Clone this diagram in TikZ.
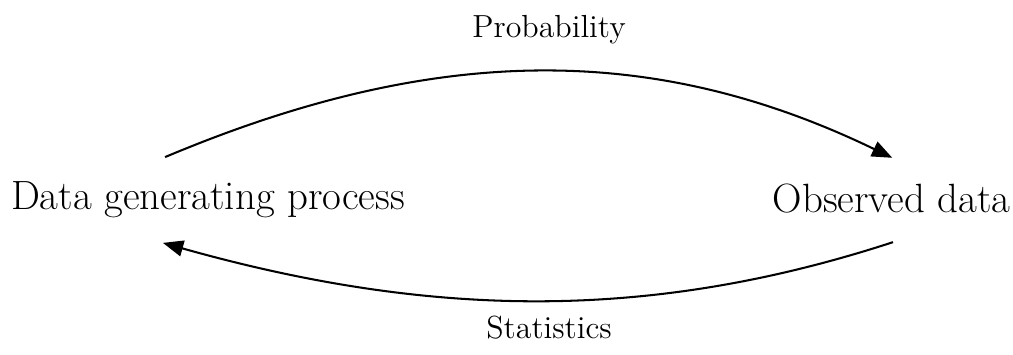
\documentclass[tikz,border=0pt]{standalone}
\usepackage{tikz}
\usetikzlibrary{arrows.meta}

\begin{document}
\begin{tikzpicture}[>={Triangle[length=0.28cm,width=0.22cm]},
    every node/.style={align=center}]
    \useasboundingbox (0,0) rectangle (13.93,4.87);
    % Nodos principales
    \node[font=\fontsize{16}{19}\selectfont, anchor=base] (dgp) at (2.86,1.99) {Data generating process};
    \node[font=\fontsize{16}{19}\selectfont, anchor=base] (obs) at (12.26,1.95) {Observed data};
    
    % Etiquetas de los arcos
    \node[font=\fontsize{12.5}{15}\selectfont] (prob) at (7.55,4.46) {Probability};
    \node[font=\fontsize{12.5}{15}\selectfont] (stat) at (7.55,0.37) {Statistics};
    
    % Arco superior (probabilidad)
    \draw[->, line width=0.8pt] ([shift={(-0.59,0.72)}]dgp.base) .. controls (6.0,4.28) and (9.0,4.28) .. ([shift={(0.01,0.75)}]obs.base);
    
    % Arco inferior (estadistica)
    \draw[->, line width=0.8pt] ([shift={(0.02,-0.41)}]obs.base) .. controls (9.0,0.47) and (6.0,0.47) .. ([shift={(-0.62,-0.46)}]dgp.base);
\end{tikzpicture}
\end{document}
